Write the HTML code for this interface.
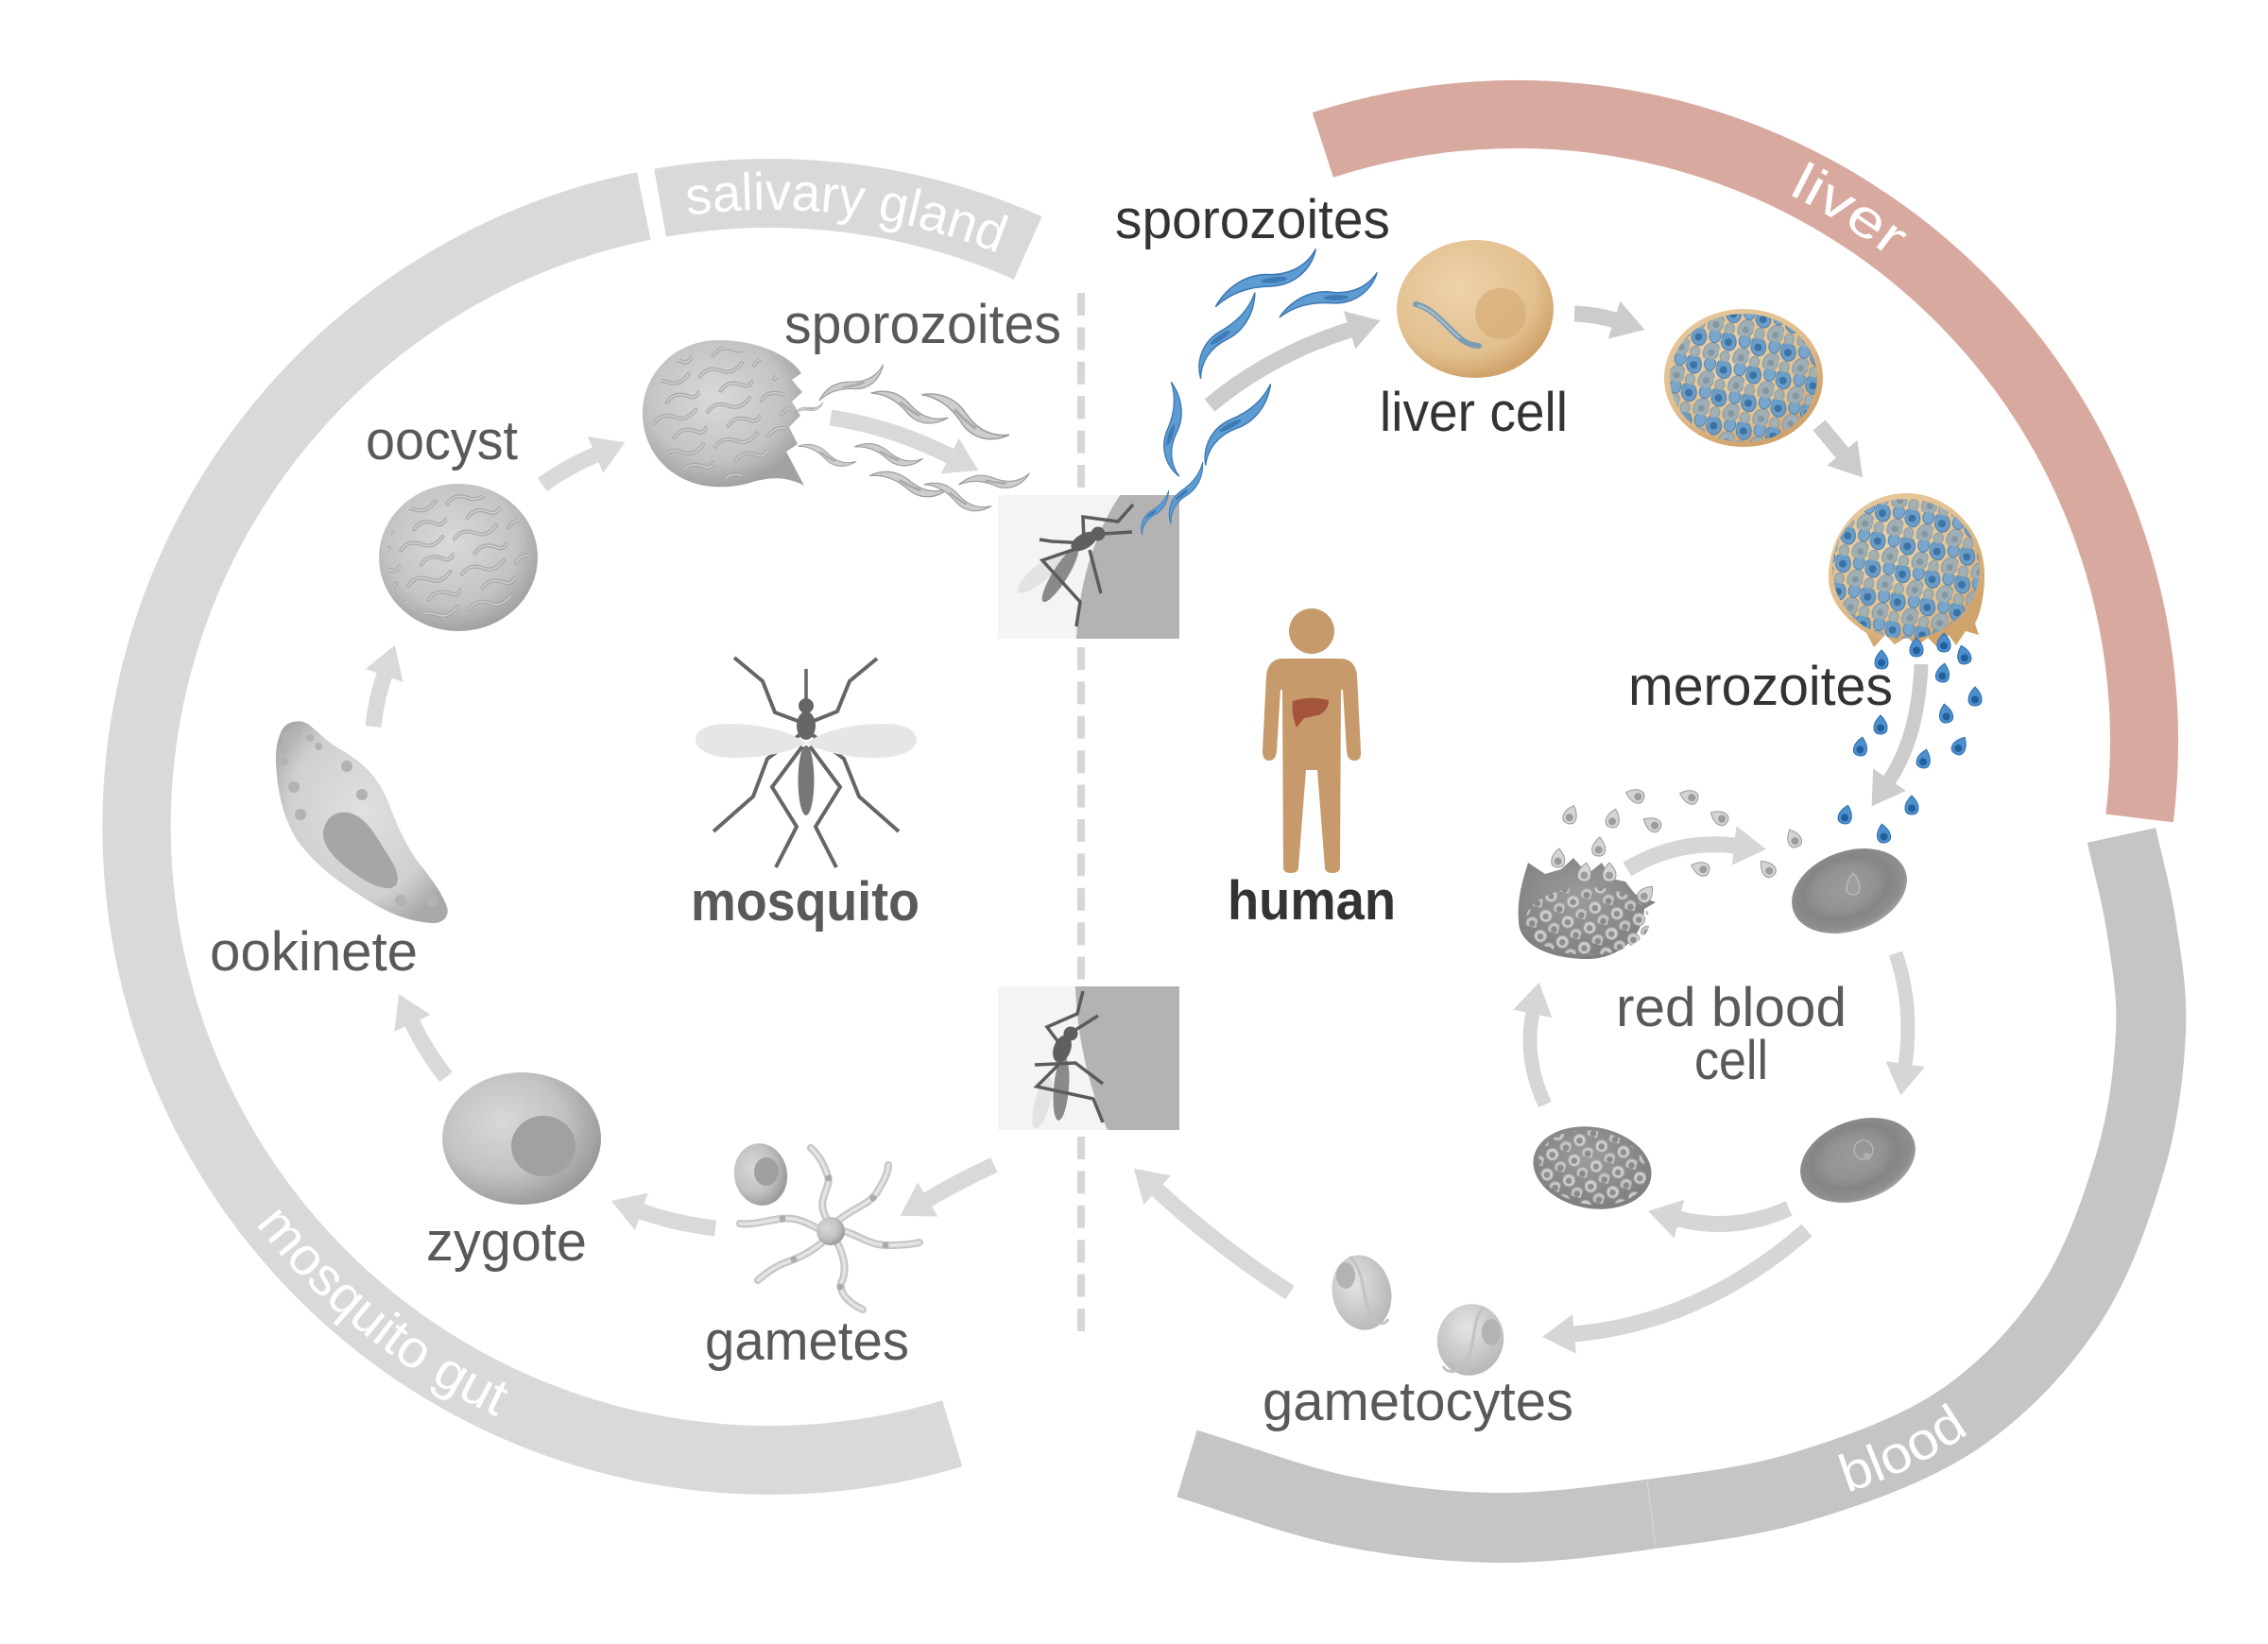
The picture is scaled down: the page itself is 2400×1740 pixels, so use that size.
<!DOCTYPE html>
<html>
<head>
<meta charset="utf-8">
<style>
html,body{margin:0;padding:0;background:#fff;}
svg{display:block;}
text{font-family:"Liberation Sans",Arial,sans-serif;}
</style>
</head>
<body>
<svg width="2400" height="1740" viewBox="0 0 2400 1740" xmlns="http://www.w3.org/2000/svg">
<defs>
  <radialGradient id="gCell" cx="45%" cy="40%" r="60%">
    <stop offset="0" stop-color="#dadada"/><stop offset="0.7" stop-color="#c3c3c3"/><stop offset="1" stop-color="#a2a2a2"/>
  </radialGradient>
  <radialGradient id="gZyg" cx="38%" cy="38%" r="65%">
    <stop offset="0" stop-color="#d8d8d8"/><stop offset="0.6" stop-color="#c2c2c2"/><stop offset="1" stop-color="#9a9a9a"/>
  </radialGradient>
  <radialGradient id="gOok" cx="50%" cy="45%" r="60%">
    <stop offset="0" stop-color="#e0e0e0"/><stop offset="0.7" stop-color="#d0d0d0"/><stop offset="1" stop-color="#a9a9a9"/>
  </radialGradient>
  <radialGradient id="gLiv" cx="40%" cy="35%" r="65%">
    <stop offset="0" stop-color="#edd2aa"/><stop offset="0.75" stop-color="#e2bf8e"/><stop offset="1" stop-color="#d1a36c"/>
  </radialGradient>
  <radialGradient id="gRBC" cx="48%" cy="45%" r="55%">
    <stop offset="0" stop-color="#9b9b9b"/><stop offset="0.45" stop-color="#939393"/><stop offset="0.68" stop-color="#858585"/><stop offset="0.9" stop-color="#8e8e8e"/><stop offset="1" stop-color="#a2a2a2"/>
  </radialGradient>
  <radialGradient id="gSch" cx="45%" cy="40%" r="60%">
    <stop offset="0" stop-color="#9c9c9c"/><stop offset="1" stop-color="#7f7f7f"/>
  </radialGradient>
  <radialGradient id="gGam" cx="40%" cy="35%" r="65%">
    <stop offset="0" stop-color="#e4e4e4"/><stop offset="1" stop-color="#b9b9b9"/>
  </radialGradient>

  <pattern id="pSq" width="58" height="38" patternUnits="userSpaceOnUse" patternTransform="rotate(-12)">
    <g fill="none" stroke-linecap="round">
      <path d="M4,12 C12,4 20,6 28,11 C34,15 42,14 50,7" stroke="#a0a0a0" stroke-width="4"/>
      <path d="M4,12 C12,4 20,6 28,11 C34,15 42,14 50,7" stroke="#d4d4d4" stroke-width="1.6"/>
      <path d="M22,31 C30,23 38,25 46,30 C50,33 54,32 57,28" stroke="#a0a0a0" stroke-width="4"/>
      <path d="M22,31 C30,23 38,25 46,30 C50,33 54,32 57,28" stroke="#d4d4d4" stroke-width="1.6"/>
    </g>
  </pattern>
  <pattern id="pMz" width="24" height="22" patternUnits="userSpaceOnUse" patternTransform="rotate(15)">
    <circle cx="7" cy="7" r="6.5" fill="#cdcdcd" stroke="#a4a4a4" stroke-width="1"/>
    <circle cx="7" cy="7.5" r="3.3" fill="#8e8e8e"/>
    <circle cx="19" cy="18" r="6.5" fill="#c4c4c4" stroke="#a0a0a0" stroke-width="1"/>
    <circle cx="19" cy="18.5" r="3.3" fill="#8a8a8a"/>
  </pattern>
  <pattern id="pLz" width="32" height="30" patternUnits="userSpaceOnUse" patternTransform="rotate(10)">
    <ellipse cx="8" cy="8" rx="8" ry="10" fill="#6c9dc7" stroke="#4a7fae" stroke-width="1" transform="rotate(-20 8 8)"/>
    <circle cx="8" cy="9" r="4" fill="#3c73a5"/>
    <ellipse cx="24" cy="22" rx="8" ry="10" fill="#9fafb5" stroke="#8599a2" stroke-width="1" transform="rotate(25 24 22)"/>
    <circle cx="24" cy="23" r="3.6" fill="#8598a0"/>
    <ellipse cx="25" cy="5" rx="6" ry="7" fill="#7aa6cb" stroke="#4f83b0" stroke-width="1"/>
    <ellipse cx="7" cy="25" rx="5" ry="6" fill="#a3b1b3" stroke="#8a9ca3" stroke-width="1"/>
  </pattern>

  <clipPath id="cOo1"><ellipse cx="485" cy="590" rx="76" ry="70"/></clipPath>
  <clipPath id="cOo2"><ellipse cx="762" cy="437" rx="72" ry="70"/></clipPath>
  <clipPath id="cLs"><ellipse cx="1845" cy="400" rx="78" ry="68"/></clipPath>
  <clipPath id="cLb"><ellipse cx="2017" cy="602" rx="78" ry="74"/></clipPath>
  <clipPath id="cBs"><ellipse cx="1685" cy="1236" rx="58" ry="39" transform="rotate(10 1685 1236)"/></clipPath>
  <clipPath id="cBb"><ellipse cx="1680" cy="975" rx="66" ry="36"/></clipPath>

  <marker id="mA" markerWidth="34" markerHeight="42" viewBox="0 0 34 42" refX="1" refY="21" orient="auto" markerUnits="userSpaceOnUse">
    <path d="M0,0 L34,21 L0,42 z" fill="#d9d9d9"/>
  </marker>
  <marker id="mB" markerWidth="34" markerHeight="42" viewBox="0 0 34 42" refX="1" refY="21" orient="auto" markerUnits="userSpaceOnUse">
    <path d="M0,0 L34,21 L0,42 z" fill="#cccccc"/>
  </marker>
  <marker id="mC" markerWidth="34" markerHeight="42" viewBox="0 0 34 42" refX="1" refY="21" orient="auto" markerUnits="userSpaceOnUse">
    <path d="M0,0 L34,21 L0,42 z" fill="#d6d6d6"/>
  </marker>

  <g id="gs">
    <path d="M-40,7 C-28,-5 -14,-7 0,-2 C14,3 28,2 40,-9 C30,8 14,12 0,6 C-14,1 -28,1 -40,7 z" fill="#cdcdcd" stroke="#9c9c9c" stroke-width="1.2"/>
    <path d="M-10,1 C-2,2 6,4 14,3" stroke="#a9a9a9" stroke-width="2.5" fill="none"/>
  </g>
  <g id="bs">
    <path d="M-60,10 C-40,-8 -15,-12 5,-4 C25,3 45,0 60,-14 C48,6 25,15 2,8 C-20,1 -40,1 -60,10 z" fill="#5d9bd3" stroke="#3a76b0" stroke-width="1.5"/>
    <ellipse cx="8" cy="3" rx="14" ry="3" fill="#3e7ab4" transform="rotate(12 8 3)"/>
  </g>
  <g id="gm">
    <path d="M0,-10 C4,-6 7,-1 7,3 C7,8 4,10 0,10 C-4,10 -7,8 -7,3 C-7,-1 -4,-6 0,-10 z" fill="#d4d4d4" stroke="#9a9a9a" stroke-width="1"/>
    <circle cx="0" cy="3.5" r="4" fill="#9c9c9c"/>
  </g>
  <g id="bm">
    <path d="M0,-10 C4,-6 7,-1 7,3 C7,8 4,10 0,10 C-4,10 -7,8 -7,3 C-7,-1 -4,-6 0,-10 z" fill="#4d8fcf" stroke="#2e6ead" stroke-width="1"/>
    <circle cx="0" cy="3.5" r="4" fill="#23609b"/>
  </g>

  <path id="tpSal" d="M668.1,238.7 A653,653 0 0 1 1111.5,293.2"/>
  <path id="tpGut" d="M215.6,1212.7 A688,688 0 0 0 618.4,1534.3"/>
  <path id="tpLiv" d="M1826.3,177 A647,647 0 0 1 2054.5,319.6"/>
  <path id="tpBld" d="M1931,1586.2 A463,463 0 0 0 2104.1,1501.8"/>
</defs>

<!-- ===== Rings ===== -->
<path d="M1018.2,1552.2 A707,707 0 1 1 674.0,182.2 L688.6,253.7 A634,634 0 1 0 997.2,1482.2 Z" fill="#d9d9d9"/>
<path d="M692.2,178.7 A707,707 0 0 1 1102.6,229.1 L1072.9,295.8 A634,634 0 0 0 704.9,250.6 Z" fill="#d9d9d9"/>
<path d="M1388.7,119.2 A700,700 0 0 1 2299.8,870.3 L2228.3,861.6 A628,628 0 0 0 1410.9,187.7 Z" fill="#d8a99f"/>
<path d="M2245,884 C2252,916.3 2260.8,946.3 2266,981 C2271.2,1015.7 2278,1050.3 2276,1092 C2274,1133.7 2268.5,1182.3 2254,1231 C2239.5,1279.7 2219.3,1338.7 2189,1384 C2158.7,1429.3 2118.8,1471.5 2072,1503 C2025.2,1534.5 1962.8,1556.3 1908,1573 C1853.2,1589.7 1797.2,1595.7 1743,1603 C1688.8,1610.3 1636.5,1617.7 1583,1617 C1529.5,1616.3 1476.5,1610.3 1422,1599 C1367.5,1587.7 1311.3,1565.7 1256,1549" fill="none" stroke="#c5c5c5" stroke-width="74"/>
<line x1="1743" y1="1567" x2="1752" y2="1639" stroke="#d2d2d2" stroke-width="1.5"/>

<!-- ring labels -->
<text font-size="56" fill="#ffffff"><textPath href="#tpSal" startOffset="50%" text-anchor="middle" textLength="335" lengthAdjust="spacingAndGlyphs">salivary gland</textPath></text>
<text font-size="56" fill="#ffffff"><textPath href="#tpGut" startOffset="50%" text-anchor="middle" textLength="330" lengthAdjust="spacingAndGlyphs">mosquito gut</textPath></text>
<text font-size="56" fill="#ffffff"><textPath href="#tpLiv" startOffset="50%" text-anchor="middle" textLength="128" lengthAdjust="spacingAndGlyphs">liver</textPath></text>
<text font-size="56" fill="#ffffff"><textPath href="#tpBld" startOffset="50%" text-anchor="middle" textLength="145" lengthAdjust="spacingAndGlyphs">blood</textPath></text>

<!-- ===== dashed line ===== -->
<g stroke="#d6d6d6" stroke-width="8" stroke-dasharray="24 12.4">
  <line x1="1144" y1="310" x2="1144" y2="524"/>
  <line x1="1144" y1="685" x2="1144" y2="1044"/>
  <line x1="1144" y1="1203" x2="1144" y2="1409"/>
</g>

<!-- ===== bite boxes ===== -->
<rect x="1056" y="524" width="192" height="152" fill="#f4f4f4"/>
<path d="M1185,524 L1248,524 L1248,676 L1139,676 C1141,630 1152,575 1185,524 z" fill="#b3b3b3"/>
<rect x="1056" y="1044" width="192" height="152" fill="#f4f4f4"/>
<path d="M1138,1044 L1248,1044 L1248,1196 L1172,1196 C1152,1150 1140,1100 1138,1044 z" fill="#b3b3b3"/>

<!-- upper box mosquito -->
<g>
  <ellipse cx="1102" cy="606" rx="32" ry="9" fill="#e3e3e3" transform="rotate(-40 1102 606)"/>
  <ellipse cx="1122" cy="608" rx="34" ry="8" fill="#8a8a8a" transform="rotate(-58 1122 608)"/>
  <g fill="none" stroke="#5c5c5c" stroke-width="3.5" stroke-linejoin="miter">
    <polyline points="1147,573 1146,547 1183,552 1199,534"/>
    <polyline points="1150,575 1113,573 1100,571"/>
    <polyline points="1147,578 1103,593 1143,637 1139,663"/>
    <polyline points="1153,582 1165,628"/>
    <line x1="1167" y1="565" x2="1198" y2="563"/>
  </g>
  <ellipse cx="1147" cy="573" rx="15" ry="8" fill="#5f5f5f" transform="rotate(-30 1147 573)"/>
  <circle cx="1162" cy="565" r="7.5" fill="#5f5f5f"/>
</g>
<!-- lower box mosquito -->
<g>
  <ellipse cx="1103" cy="1167" rx="8" ry="28" fill="#e3e3e3" transform="rotate(15 1103 1167)"/>
  <ellipse cx="1123" cy="1152" rx="8" ry="34" fill="#8a8a8a" transform="rotate(5 1123 1152)"/>
  <g fill="none" stroke="#5c5c5c" stroke-width="3.5">
    <polyline points="1146,1049 1140,1073 1108,1087 1120,1103"/>
    <polyline points="1162,1075 1135,1092"/>
    <polyline points="1095,1127 1138,1125 1167,1147"/>
    <polyline points="1120,1127 1097,1150 1157,1163 1167,1188"/>
  </g>
  <ellipse cx="1124" cy="1110" rx="9" ry="15" fill="#5f5f5f" transform="rotate(20 1124 1110)"/>
  <circle cx="1133" cy="1094" r="7.5" fill="#5f5f5f"/>
</g>

<!-- ===== arrows ===== -->
<g fill="none" stroke-width="17">
  <path d="M395,769 Q398,740 407,714" stroke="#d9d9d9" marker-end="url(#mA)"/>
  <path d="M574,513 Q600,494 631,481" stroke="#d9d9d9" marker-end="url(#mA)"/>
  <path d="M879,442 Q945,452 1006,483" stroke="#d9d9d9" marker-end="url(#mA)"/>
  <path d="M1052,1233 Q1015,1250 981,1270" stroke="#d9d9d9" marker-end="url(#mA)"/>
  <path d="M757,1300 Q715,1295 678,1282" stroke="#d9d9d9" marker-end="url(#mA)"/>
  <path d="M472,1140 Q450,1112 436,1082" stroke="#d9d9d9" marker-end="url(#mA)"/>
  <path d="M1280,429 Q1345,375 1429,349" stroke="#cccccc" marker-end="url(#mB)"/>
  <path d="M1666,332 Q1690,333 1709,339" stroke="#cccccc" marker-end="url(#mB)"/>
  <path d="M1925,450 L1950,480" stroke="#cccccc" marker-end="url(#mB)"/>
  <path d="M2033,703 Q2030,780 1999,826" stroke="#cccccc" stroke-width="15" marker-end="url(#mB)"/>
  <path d="M1722,920 Q1775,888 1836,895" stroke="#d6d6d6" marker-end="url(#mC)"/>
  <path d="M2006,1009 Q2025,1065 2016,1127" stroke="#d6d6d6" stroke-width="15" marker-end="url(#mC)"/>
  <path d="M1893,1279 Q1835,1305 1776,1290" stroke="#d6d6d6" marker-end="url(#mC)"/>
  <path d="M1912,1302 Q1800,1400 1665,1412" stroke="#d6d6d6" marker-end="url(#mC)"/>
  <path d="M1635,1169 Q1612,1120 1622,1072" stroke="#d6d6d6" stroke-width="15" marker-end="url(#mC)"/>
  <path d="M1365,1368 Q1290,1320 1224,1259" stroke="#d9d9d9" marker-end="url(#mA)"/>
</g>

<!-- ===== mosquito side cells ===== -->
<ellipse cx="485" cy="590" rx="84" ry="78" fill="url(#gCell)"/>
<rect x="400" y="510" width="170" height="160" fill="url(#pSq)" clip-path="url(#cOo1)" opacity="0.85"/>
<path d="M760,360 C800,360 835,375 848,395 L838,402 L849,415 L838,425 L847,440 L835,452 L844,470 L832,478 L851,514 C830,503 812,505 790,512 C775,516 760,516 745,514 C705,506 680,475 680,437 C680,395 715,360 760,360 z" fill="url(#gCell)"/>
<rect x="680" y="360" width="175" height="160" fill="url(#pSq)" clip-path="url(#cOo2)" opacity="0.85"/>
<use href="#gs" transform="translate(901,406) rotate(-18) scale(0.95)"/>
<use href="#gs" transform="translate(962,430) rotate(29) scale(1.05)"/>
<use href="#gs" transform="translate(1021,440) rotate(36) scale(1.25)"/>
<use href="#gs" transform="translate(875,481) rotate(26) scale(0.78)"/>
<use href="#gs" transform="translate(940,480) rotate(21) scale(0.9)"/>
<use href="#gs" transform="translate(962,511) rotate(20) scale(1.05)"/>
<use href="#gs" transform="translate(1013,525) rotate(29) scale(0.92)"/>
<use href="#gs" transform="translate(1052,508) rotate(2) scale(0.93)"/>
<use href="#gs" transform="translate(856,432) rotate(-10) scale(0.4)"/>

<!-- ookinete -->
<path d="M307,765 C296,768 291,790 292,807 C293,830 297,860 313,887 C325,905 345,925 380,947 C400,960 425,975 457,977 C470,978 476,968 473,960 C468,945 455,928 443,913 C430,895 423,880 410,847 C402,828 390,810 360,793 C348,786 340,778 327,767 C320,762 312,763 307,765 z" fill="url(#gOok)"/>
<path d="M342,880 C345,865 355,858 368,860 C385,863 395,880 403,893 C412,908 424,922 420,935 C416,944 400,940 383,930 C365,918 340,900 342,880 z" fill="#a6a6a6"/>
<g fill="#b2b2b2">
  <circle cx="302" cy="779" r="4"/><circle cx="315" cy="772" r="4"/><circle cx="328" cy="781" r="4"/><circle cx="337" cy="790" r="4"/>
  <circle cx="301" cy="793" r="4"/><circle cx="301" cy="806" r="4"/><circle cx="367" cy="811" r="6"/><circle cx="311" cy="833" r="6"/>
  <circle cx="383" cy="841" r="6"/><circle cx="318" cy="862" r="6"/><circle cx="424" cy="953" r="6"/><circle cx="458" cy="954" r="6"/>
</g>

<!-- zygote -->
<ellipse cx="552" cy="1205" rx="84" ry="70" fill="url(#gZyg)"/>
<ellipse cx="575" cy="1213" rx="34" ry="32" fill="#a1a1a1"/>

<!-- female gamete -->
<ellipse cx="805" cy="1243" rx="28" ry="33" fill="url(#gZyg)" transform="rotate(-10 805 1243)"/>
<ellipse cx="811" cy="1240" rx="13" ry="15" fill="#a0a0a0"/>
<!-- male gamete -->
<g fill="none" stroke-linecap="round">
  <g stroke="#c6c6c6" stroke-width="8">
    <path d="M875,1290 C862,1270 880,1258 876,1245 C872,1232 866,1222 858,1215"/>
    <path d="M887,1292 C900,1280 920,1275 928,1262 C935,1250 940,1242 940,1233"/>
    <path d="M893,1303 C910,1308 920,1318 940,1318 C955,1318 965,1317 973,1315"/>
    <path d="M887,1317 C893,1330 897,1345 890,1358 C888,1370 900,1380 913,1386"/>
    <path d="M870,1315 C858,1325 848,1330 835,1335 C820,1340 810,1348 802,1355"/>
    <path d="M865,1300 C850,1292 840,1288 826,1290 C810,1292 795,1297 783,1295"/>
  </g>
  <g stroke="#e4e4e4" stroke-width="3.5">
    <path d="M875,1290 C862,1270 880,1258 876,1245 C872,1232 866,1222 858,1215"/>
    <path d="M887,1292 C900,1280 920,1275 928,1262 C935,1250 940,1242 940,1233"/>
    <path d="M893,1303 C910,1308 920,1318 940,1318 C955,1318 965,1317 973,1315"/>
    <path d="M887,1317 C893,1330 897,1345 890,1358 C888,1370 900,1380 913,1386"/>
    <path d="M870,1315 C858,1325 848,1330 835,1335 C820,1340 810,1348 802,1355"/>
    <path d="M865,1300 C850,1292 840,1288 826,1290 C810,1292 795,1297 783,1295"/>
  </g>
</g>
<g fill="#ababab">
  <circle cx="877" cy="1247" r="3.5"/><circle cx="924" cy="1268" r="3.5"/><circle cx="937" cy="1318" r="3.5"/>
  <circle cx="889" cy="1362" r="3.5"/><circle cx="840" cy="1333" r="3.5"/><circle cx="828" cy="1290" r="3.5"/>
</g>
<circle cx="879" cy="1303" r="15" fill="url(#gZyg)"/>

<!-- main mosquito icon -->
<g fill="none" stroke="#666" stroke-width="4">
  <polyline points="844,763 820,754 807,721 777,696"/>
  <polyline points="861,763 886,753 899,721 928,697"/>
  <polyline points="846,778 812,803 797,843 755,880"/>
  <polyline points="860,778 893,803 909,843 951,880"/>
  <polyline points="849,790 817,833 843,875 821,918"/>
  <polyline points="857,790 889,833 863,875 885,918"/>
  <line x1="853" y1="708" x2="853" y2="742" stroke-width="3.5"/>
</g>
<path d="M853,787 C835,772 800,766 770,766 C745,766 736,775 736,783 C736,792 748,801 775,802 C805,803 835,796 853,787 z" fill="#e6e6e6"/>
<path d="M853,787 C871,772 906,766 936,766 C961,766 970,775 970,783 C970,792 958,801 931,802 C901,803 871,796 853,787 z" fill="#e6e6e6"/>
<circle cx="853" cy="747" r="8" fill="#666"/>
<ellipse cx="853" cy="768" rx="10" ry="15" fill="#666"/>
<ellipse cx="853" cy="826" rx="8.5" ry="37" fill="#777"/>

<!-- ===== human side ===== -->
<use href="#bs" transform="translate(1340,296) rotate(-18.6)"/>
<use href="#bs" transform="translate(1406,314) rotate(-13.4) scale(0.93)"/>
<use href="#bs" transform="translate(1298,354) rotate(133.5) scale(0.88)"/>
<use href="#bs" transform="translate(1242,454) rotate(96.4) scale(0.82)"/>
<use href="#bs" transform="translate(1309,448) rotate(140) scale(0.9)"/>
<use href="#bs" transform="translate(1255,521) rotate(128.5) scale(0.6)"/>
<use href="#bs" transform="translate(1222,542) rotate(132) scale(0.45)"/>

<!-- liver cell -->
<ellipse cx="1561" cy="327" rx="83" ry="73" fill="url(#gLiv)"/>
<circle cx="1588" cy="332" r="27" fill="#d7ae78" opacity="0.75"/>
<path d="M1498,322 C1515,325 1530,345 1545,358 C1552,364 1560,366 1565,366" fill="none" stroke="#7d9db3" stroke-width="6" stroke-linecap="round"/>
<path d="M1500,323 C1515,326 1530,345 1545,358" fill="none" stroke="#a9c0cf" stroke-width="2"/>

<!-- liver schizont -->
<ellipse cx="1845" cy="400" rx="84" ry="73" fill="url(#gLiv)"/>
<rect x="1760" y="325" width="170" height="150" fill="url(#pLz)" clip-path="url(#cLs)"/>

<!-- bursting liver schizont -->
<path d="M1935,612 C1935,560 1972,522 2017,522 C2062,522 2100,560 2100,608 C2100,630 2096,648 2090,660 L2094,672 L2080,668 L2070,683 L2062,672 L2050,685 L2040,675 L2028,684 L2018,674 L2005,682 L1995,672 L1983,685 L1975,670 C1952,655 1935,635 1935,612 z" fill="url(#gLiv)"/>
<rect x="1935" y="522" width="166" height="160" fill="url(#pLz)" clip-path="url(#cLb)"/>

<!-- blue merozoites -->
<use href="#bm" transform="translate(1991,698)"/>
<use href="#bm" transform="translate(2028,685)"/>
<use href="#bm" transform="translate(2057,680)"/>
<use href="#bm" transform="translate(2078,693) rotate(-15)"/>
<use href="#bm" transform="translate(2056,712) rotate(10)"/>
<use href="#bm" transform="translate(2090,737)"/>
<use href="#bm" transform="translate(2059,755) rotate(-10)"/>
<use href="#bm" transform="translate(1990,767)"/>
<use href="#bm" transform="translate(1969,790) rotate(10)"/>
<use href="#bm" transform="translate(2036,803) rotate(15)"/>
<use href="#bm" transform="translate(2074,789) rotate(30)"/>
<use href="#bm" transform="translate(2023,852)"/>
<use href="#bm" transform="translate(1953,862) rotate(15)"/>
<use href="#bm" transform="translate(1993,882) rotate(-10)"/>

<!-- human -->
<circle cx="1388" cy="668" r="24" fill="#c69a6b"/>
<path d="M1358,697 L1418,697 Q1434,697 1436,715 L1440,795 Q1441,805 1433,805 Q1426,805 1425,795 L1421,730 L1419,730 L1418,918 Q1418,924 1410,924 Q1402,924 1402,918 L1394,815 L1382,815 L1374,918 Q1374,924 1366,924 Q1358,924 1358,918 L1357,730 L1355,730 L1351,795 Q1350,805 1343,805 Q1336,805 1336,795 L1340,715 Q1342,697 1358,697 z" fill="#c69a6b"/>
<path d="M1368,742 Q1385,736 1406,741 Q1406,752 1395,757 L1380,760 L1372,770 Q1366,755 1368,742 z" fill="#a4543a"/>

<!-- bursting blood schizont -->
<path d="M1607,975 C1605,950 1612,930 1617,913 L1635,925 L1652,920 L1665,908 L1680,925 L1695,913 L1705,930 L1720,933 L1730,946 L1752,955 L1740,962 C1738,995 1710,1015 1680,1015 C1640,1015 1607,1000 1607,975 z" fill="url(#gSch)"/>
<rect x="1607" y="930" width="145" height="85" fill="url(#pMz)" clip-path="url(#cBb)"/>

<!-- gray merozoites -->
<use href="#gm" transform="translate(1662,862) rotate(20)"/>
<use href="#gm" transform="translate(1707,866) rotate(15)"/>
<use href="#gm" transform="translate(1748,872) rotate(-60)"/>
<use href="#gm" transform="translate(1692,896) rotate(5)"/>
<use href="#gm" transform="translate(1649,908) rotate(5)"/>
<use href="#gm" transform="translate(1677,923) rotate(10)"/>
<use href="#gm" transform="translate(1703,923) rotate(0)"/>
<use href="#gm" transform="translate(1742,946) rotate(40)"/>
<use href="#gm" transform="translate(1799,919) rotate(-70)"/>
<use href="#gm" transform="translate(1819,865) rotate(-60)"/>
<use href="#gm" transform="translate(1898,887) rotate(-25)"/>
<use href="#gm" transform="translate(1870,919) rotate(-40)"/>
<use href="#gm" transform="translate(1787,843) rotate(-70)"/>
<use href="#gm" transform="translate(1730,842) rotate(-70)"/>

<!-- red blood cells -->
<ellipse cx="1957" cy="943" rx="63" ry="42" fill="url(#gRBC)" transform="rotate(-20 1957 943)"/>
<path d="M1961,924 C1966,930 1968,936 1968,940 C1968,945 1965,947 1961,947 C1957,947 1954,945 1954,940 C1954,936 1956,930 1961,924 z" fill="#9e9e9e" stroke="#b8b8b8" stroke-width="1.5"/>
<ellipse cx="1966" cy="1228" rx="63" ry="42" fill="url(#gRBC)" transform="rotate(-20 1966 1228)"/>
<circle cx="1972" cy="1217" r="10" fill="none" stroke="#b5b5b5" stroke-width="1.5"/>
<circle cx="1976" cy="1224" r="4" fill="#b0b0b0"/>

<!-- blood schizont -->
<ellipse cx="1685" cy="1236" rx="63" ry="43" fill="url(#gSch)" transform="rotate(10 1685 1236)"/>
<rect x="1620" y="1190" width="130" height="92" fill="url(#pMz)" clip-path="url(#cBs)"/>

<!-- gametocytes -->
<ellipse cx="1441" cy="1368" rx="31" ry="40" fill="url(#gGam)" transform="rotate(-12 1441 1368)"/>
<ellipse cx="1424" cy="1350" rx="10" ry="14" fill="#b3b3b3"/>
<path d="M1428,1330 C1446,1345 1440,1375 1452,1395 C1458,1403 1466,1402 1469,1396" fill="none" stroke="#c2c2c2" stroke-width="3"/>
<ellipse cx="1556" cy="1418" rx="35" ry="38" fill="url(#gGam)" transform="rotate(15 1556 1418)"/>
<ellipse cx="1578" cy="1410" rx="10" ry="14" fill="#b3b3b3"/>
<path d="M1570,1383 C1555,1398 1565,1430 1545,1448 C1538,1454 1530,1452 1527,1446" fill="none" stroke="#c2c2c2" stroke-width="3"/>

<!-- ===== labels ===== -->
<g font-size="58" fill="#595959">
  <text x="830" y="363" textLength="293" lengthAdjust="spacingAndGlyphs">sporozoites</text>
  <text x="387" y="486" textLength="161" lengthAdjust="spacingAndGlyphs">oocyst</text>
  <text x="222" y="1027" textLength="220" lengthAdjust="spacingAndGlyphs">ookinete</text>
  <text x="451" y="1334" textLength="170" lengthAdjust="spacingAndGlyphs">zygote</text>
  <text x="746" y="1439" textLength="216" lengthAdjust="spacingAndGlyphs">gametes</text>
  <text x="1710" y="1086" textLength="244" lengthAdjust="spacingAndGlyphs">red blood</text>
  <text x="1793" y="1142" textLength="78" lengthAdjust="spacingAndGlyphs">cell</text>
  <text x="1336" y="1503" textLength="329" lengthAdjust="spacingAndGlyphs">gametocytes</text>
  <text x="731" y="974" font-weight="bold" textLength="242" lengthAdjust="spacingAndGlyphs">mosquito</text>
</g>
<g font-size="58" fill="#333333">
  <text x="1180" y="252" textLength="291" lengthAdjust="spacingAndGlyphs">sporozoites</text>
  <text x="1460" y="456" textLength="199" lengthAdjust="spacingAndGlyphs">liver cell</text>
  <text x="1723" y="746" textLength="280" lengthAdjust="spacingAndGlyphs">merozoites</text>
  <text x="1299" y="973" font-weight="bold" textLength="178" lengthAdjust="spacingAndGlyphs">human</text>
</g>
</svg>
</body>
</html>
